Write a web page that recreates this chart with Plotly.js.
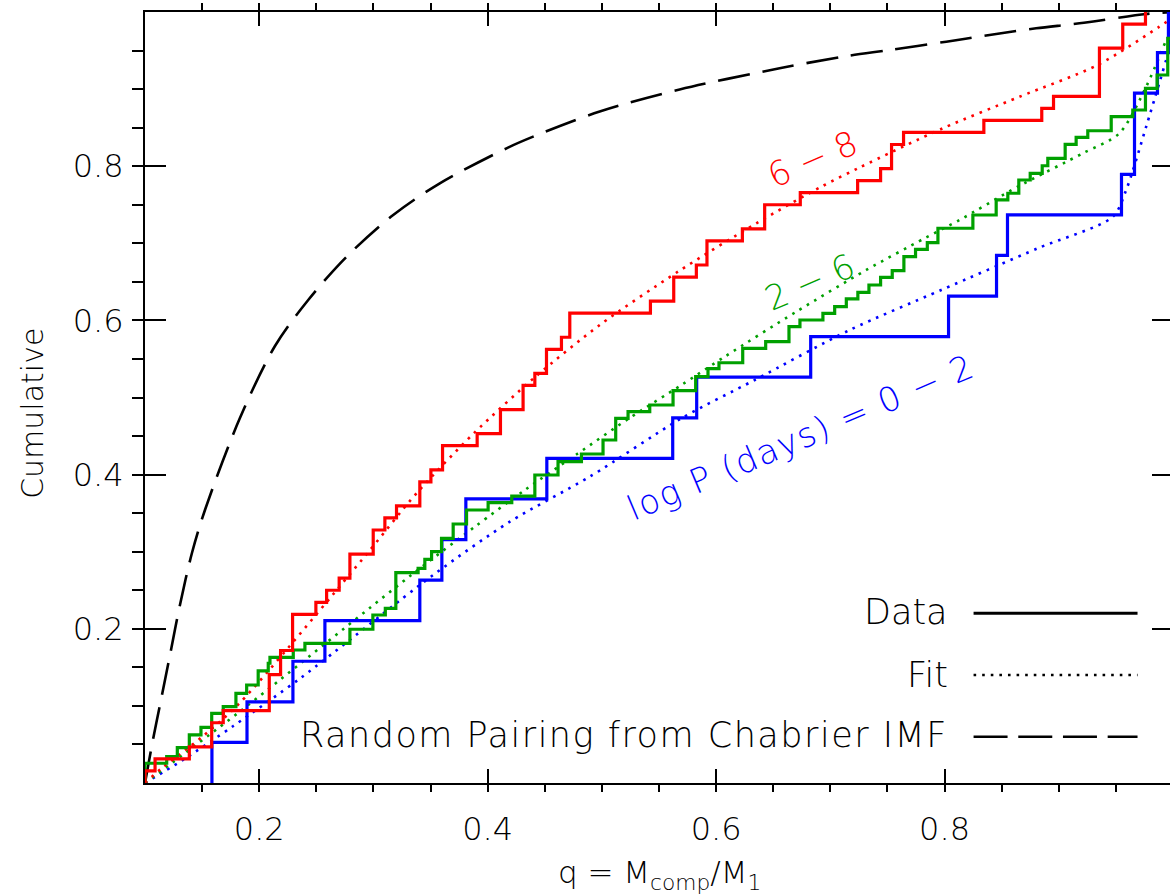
<!DOCTYPE html>
<html>
<head>
<meta charset="utf-8">
<script src="https://cdn.plot.ly/plotly-3.0.1.min.js"></script>
<style>
html,body{margin:0;padding:0;overflow:hidden;background:#fff;}
#chart{width:1173px;height:896px;}
</style>
</head>
<body>
<div id="chart"></div>
<script>
// ---- Data: cumulative step distributions (q values where the CDF jumps) ----
var redQ = [0.1, 0.1088, 0.1388, 0.1584, 0.1685, 0.2088, 0.2187, 0.2292, 0.2496, 0.259, 0.27, 0.2794, 0.2998, 0.31, 0.3202, 0.3406, 0.3503, 0.3605, 0.3908, 0.4112, 0.431, 0.4413, 0.4515, 0.4646, 0.4719, 0.5425, 0.5629, 0.5827, 0.592, 0.623, 0.6425, 0.6737, 0.7239, 0.744, 0.7536, 0.7641, 0.8344, 0.8851, 0.8954, 0.9356, 0.956, 0.9759];
var redCount = [1,2,3,5,6,9,11,14,15,16,17,19,21,22,23,25,26,28,29,31,33,34,36,37,39,40,42,43,45,46,48,49,50,51,53,54,55,56,57,61,63,64];
var redN = 64;

var blueQ = [0.1586, 0.1893, 0.2295, 0.2575, 0.3406, 0.3599, 0.3809, 0.4518, 0.562, 0.583, 0.6828, 0.8035, 0.8455, 0.8551, 0.9549, 0.9663, 0.9864, 0.996];
var blueCount = [1,2,3,4,5,6,7,8,9,10,11,12,13,14,15,17,18,19];
var blueN = 19;

var greenQ = [0.1, 0.119, 0.1283, 0.1388, 0.149, 0.1584, 0.1685, 0.1796, 0.189, 0.1991, 0.2079, 0.2094, 0.2298, 0.24, 0.2794, 0.2995, 0.3104, 0.3196, 0.3391, 0.345, 0.3509, 0.3596, 0.3698, 0.3815, 0.4004, 0.4211, 0.4413, 0.4616, 0.4821, 0.501, 0.5121, 0.5229, 0.5419, 0.5623, 0.5821, 0.5929, 0.6025, 0.6233, 0.6434, 0.6638, 0.6734, 0.6935, 0.7038, 0.714, 0.7241, 0.7338, 0.744, 0.7542, 0.7644, 0.7746, 0.7849, 0.7942, 0.8248, 0.8452, 0.8554, 0.865, 0.875, 0.8855, 0.8904, 0.9056, 0.9152, 0.9254, 0.9459, 0.9648, 0.9759, 0.9861, 0.9954, 0.999];
var greenCum = [0.0256, 0.0341, 0.0458, 0.0623, 0.0722, 0.0904, 0.099, 0.1163, 0.1271, 0.1453, 0.1553, 0.163, 0.1725, 0.1812, 0.1994, 0.2179, 0.2266, 0.2728, 0.2785, 0.2901, 0.30, 0.3174, 0.3359, 0.3541, 0.3636, 0.3722, 0.3995, 0.4167, 0.4267, 0.4449, 0.473, 0.4816, 0.4903, 0.5088, 0.527, 0.5374, 0.5451, 0.5638, 0.5724, 0.5918, 0.6005, 0.6092, 0.6178, 0.6278, 0.6364, 0.6459, 0.6559, 0.6645, 0.6826, 0.6922, 0.7008, 0.7195, 0.7367, 0.7562, 0.7649, 0.7821, 0.7908, 0.8006, 0.8102, 0.8284, 0.8375, 0.846, 0.8642, 0.8729, 0.901, 0.9183, 0.9659, 1.0];

// ---- Fits (dotted) ----
var redFitQ = [0.1, 0.1146, 0.1496, 0.1831, 0.291, 0.3377, 0.3879, 0.4419, 0.4981, 0.5666, 0.6352, 0.6921, 0.7256, 0.7985, 0.8656, 0.9341, 0.9881, 1.0];
var redFitY = [0.0, 0.0191, 0.0593, 0.1041, 0.2914, 0.3757, 0.4536, 0.527, 0.594, 0.6632, 0.7259, 0.7734, 0.7983, 0.8492, 0.8901, 0.9313, 0.981, 0.993];

var greenFitQ = [0.1, 0.1814, 0.3313, 0.3888, 0.4334, 0.4783, 0.5238, 0.5696, 0.6075, 0.6702, 0.7315, 0.7825, 0.8131, 0.8641, 0.921, 0.9531, 0.9765, 0.994];
var greenFitY = [0.0, 0.0908, 0.2676, 0.3324, 0.3809, 0.4267, 0.473, 0.5162, 0.5529, 0.6113, 0.6654, 0.7065, 0.7302, 0.7734, 0.8167, 0.8427, 0.9031, 0.9637];

var blueFitQ = [0.1, 0.1321, 0.1773, 0.2371, 0.3523, 0.4194, 0.4894, 0.5696, 0.6338, 0.7169, 0.7971, 0.8816, 0.9473, 0.959, 0.9765, 0.994];
var blueFitY = [0.0, 0.0289, 0.0739, 0.1371, 0.2698, 0.3389, 0.3973, 0.473, 0.5227, 0.5875, 0.6394, 0.6935, 0.7345, 0.7691, 0.8512, 0.9377];

// ---- Random pairing from Chabrier IMF (dashed) ----
var imfQ = [0.1, 0.1061, 0.1131, 0.1219, 0.1306, 0.1411, 0.1525, 0.1831, 0.2138, 0.2429, 0.2765, 0.3173, 0.3581, 0.4165, 0.4398, 0.4981, 0.5681, 0.6556, 0.7108, 0.7519, 0.8015, 0.8394, 0.8802, 0.9181, 0.9765, 1.0];
var imfY = [0.0, 0.0493, 0.1012, 0.1661, 0.2309, 0.2983, 0.3541, 0.4734, 0.5668, 0.6265, 0.6826, 0.7367, 0.7778, 0.8232, 0.8383, 0.8709, 0.8995, 0.927, 0.942, 0.9507, 0.9615, 0.9702, 0.9789, 0.9853, 0.9974, 1.0];

var tickVals = [0.2, 0.4, 0.6, 0.8];
var tickText = ['0.2', '0.4', '0.6', '0.8'];

var legendLabels = ['Data', 'Fit', 'Random Pairing from Chabrier IMF'];
var curveLabels = ['6 \u2212 8', '2 \u2212 6', 'log P (days) = 0 \u2212 2'];

// ---- Styles ----
var RED = '#ff0000', GREEN = '#00a000', BLUE = '#0000ff';
var FONT = 'DejaVu Sans, Liberation Sans, sans-serif';

function stepTrace(q, lev, color) {
  var x = [q[0]], y = [0];
  for (var i = 0; i < q.length; i++) { x.push(q[i]); y.push(lev[i]); }
  return {x: x, y: y, type: 'scatter', mode: 'lines', line: {shape: 'hv', color: color, width: 3.2}, hoverinfo: 'skip', showlegend: false};
}
function frac(c, n) { return c.map(function (k) { return k / n; }); }
function fitTrace(x, y, color) {
  return {x: x, y: y, type: 'scatter', mode: 'lines', line: {shape: 'spline', smoothing: 0.8, color: color, width: 2.6, dash: '2.6px,6px'}, hoverinfo: 'skip', showlegend: false};
}
function spaced(t, px) { return '<span style="letter-spacing:' + px + 'px">' + t + '</span>'; }

var traces = [
  {x: imfQ, y: imfY, type: 'scatter', mode: 'lines', line: {shape: 'spline', smoothing: 0.9, color: '#000', width: 2.6, dash: '32px,13px'}, hoverinfo: 'skip', showlegend: false},
  fitTrace(blueFitQ, blueFitY, BLUE),
  fitTrace(greenFitQ, greenFitY, GREEN),
  fitTrace(redFitQ, redFitY, RED),
  stepTrace(blueQ, frac(blueCount, blueN), BLUE),
  stepTrace(greenQ, greenCum, GREEN),
  stepTrace(redQ, frac(redCount, redN), RED)
];

var axisCommon = {
  showgrid: false, zeroline: false, showline: true, mirror: 'ticks',
  linecolor: '#000', linewidth: 2, ticks: 'inside', tickcolor: '#000', tickwidth: 2,
  tickmode: 'array', tickvals: tickVals, ticktext: tickText,
  tickfont: {family: FONT, size: 32, color: '#000', weight: 200}
};

var layout = {
  width: 1173, height: 896,
  margin: {l: 145, r: 0, t: 12, b: 113, pad: 0},
  paper_bgcolor: '#fff', plot_bgcolor: '#fff',
  showlegend: false,
  xaxis: Object.assign({}, axisCommon, {
    range: [0.1, 1.0], ticklen: 14, ticklabelstandoff: 17,
    minor: {tickmode: 'linear', tick0: 0, dtick: 0.05, ticklen: 7, tickwidth: 2, tickcolor: '#000', showgrid: false}
  }),
  yaxis: Object.assign({}, axisCommon, {
    range: [0, 1.0], ticklen: 21, ticklabelstandoff: 13,
    minor: {tickmode: 'linear', tick0: 0, dtick: 0.05, ticklen: 11, tickwidth: 2, tickcolor: '#000', showgrid: false}
  }),
  annotations: [
    {xref: 'paper', yref: 'paper', x: 0.5, y: -0.119, xanchor: 'center', yanchor: 'middle', showarrow: false,
     text: 'q = M<sub>comp</sub>/M<sub>1</sub>', font: {family: FONT, size: 31, color: '#000', weight: 200}},
    {xref: 'paper', yref: 'paper', x: -0.109, y: 0.48, xanchor: 'center', yanchor: 'middle', showarrow: false, textangle: -90,
     text: 'Cumulative', font: {family: FONT, size: 30, color: '#000', weight: 200}},
    {xref: 'x', yref: 'y', x: 0.6845, y: 0.809, showarrow: false, textangle: -23, text: curveLabels[0], font: {family: FONT, size: 34, color: RED, weight: 200}},
    {xref: 'x', yref: 'y', x: 0.6819, y: 0.65, showarrow: false, textangle: -23, text: curveLabels[1], font: {family: FONT, size: 34, color: GREEN, weight: 200}},
    {xref: 'x', yref: 'y', x: 0.674, y: 0.449, showarrow: false, textangle: -23, text: spaced(curveLabels[2], 1.5), font: {family: FONT, size: 34, color: BLUE, weight: 200}},
    {xref: 'paper', yref: 'paper', x: 0.783, y: 0.222, xanchor: 'right', yanchor: 'middle', showarrow: false, text: legendLabels[0], font: {family: FONT, size: 35, color: '#000', weight: 200}},
    {xref: 'paper', yref: 'paper', x: 0.783, y: 0.140, xanchor: 'right', yanchor: 'middle', showarrow: false, text: legendLabels[1], font: {family: FONT, size: 35, color: '#000', weight: 200}},
    {xref: 'paper', yref: 'paper', x: 0.783, y: 0.062, xanchor: 'right', yanchor: 'middle', showarrow: false, text: spaced(legendLabels[2], 1.5), font: {family: FONT, size: 35, color: '#000', weight: 200}}
  ],
  shapes: [
    {type: 'line', xref: 'paper', yref: 'paper', x0: 0.806, x1: 0.9655, y0: 0.2201, y1: 0.2201, line: {color: '#000', width: 3}},
    {type: 'line', xref: 'paper', yref: 'paper', x0: 0.806, x1: 0.9655, y0: 0.14, y1: 0.14, line: {color: '#000', width: 2.6, dash: '2.6px,6px'}},
    {type: 'line', xref: 'paper', yref: 'paper', x0: 0.806, x1: 0.9655, y0: 0.06, y1: 0.06, line: {color: '#000', width: 2.6, dash: '34px,10.7px'}}
  ]
};

Plotly.newPlot('chart', traces, layout, {displayModeBar: false, staticPlot: true});
</script>
</body>
</html>
